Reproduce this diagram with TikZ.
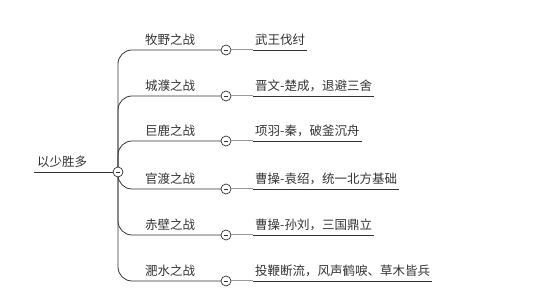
\documentclass[tikz,border=0pt]{standalone}
\usepackage{fontspec}
\newfontfamily\cjk{Noto Sans CJK SC}
\usetikzlibrary{backgrounds}
\definecolor{ink}{HTML}{333333}
\definecolor{conn}{HTML}{9A9A9A}
\begin{document}
\begin{tikzpicture}[x=1pt,y=-1pt,
  txt/.style={font=\cjk\fontsize{12.5}{14}\selectfont, text=ink, inner sep=0pt},
  subt/.style={txt, inner xsep=2pt, anchor=base west},
  toplab/.style={txt, anchor=base west},
  circ/.style={circle, draw=ink, fill=white, line width=0.7pt, minimum size=10pt, inner sep=0pt,
    path picture={\draw[ink, line width=0.8pt] ([xshift=-2.4pt]path picture bounding box.center) -- ([xshift=2.4pt]path picture bounding box.center);}},
  branch/.style={draw=ink, line width=0.8pt, rounded corners=14pt},
  uline/.style={draw=ink, line width=0.8pt},
  gline/.style={draw=conn, line width=1pt}]
\useasboundingbox (0,0) rectangle (544,304);
% root
\coordinate (rs) at (34,172);
\node[circ] (rc) at (118,172) {};
\node[toplab] (root) at (37,167) {以少胜多};
% branches
\foreach \i/\y/\t/\s in {1/50/牧野之战/武王伐纣,
                         2/96/城濮之战/晋文-楚成，退避三舍,
                         3/141/巨鹿之战/项羽-秦，破釜沉舟,
                         4/189/官渡之战/曹操-袁绍，统一北方基础,
                         5/235/赤壁之战/曹操-孙刘，三国鼎立,
                         6/281/淝水之战/投鞭断流，风声鹤唳、草木皆兵}{
  \node[circ] (c\i) at (226,\y) {};
  \node[toplab] (t\i) at (145,\y-5) {\t};
  \node[subt] (s\i) at (253,\y-5) {\s};
  \begin{scope}[on background layer]
    \draw[branch] (rc.center) |- (c\i.center);
  \end{scope}
  \draw[gline] (c\i.east) -- (c\i.east -| s\i.west);
  \draw[uline] (c\i.east -| s\i.west) -- (c\i.east -| s\i.east);
}
\begin{scope}[on background layer]
  \draw[uline] (rs) -- (rc.center);
\end{scope}
\end{tikzpicture}
\end{document}
